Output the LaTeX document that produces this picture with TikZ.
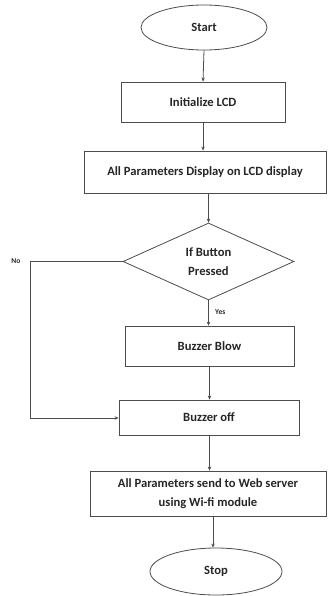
\documentclass[tikz,border=0pt]{standalone}
\usepackage{fontspec}
\setmainfont{Carlito}
\usetikzlibrary{shapes.geometric,arrows.meta}
\begin{document}
\begin{tikzpicture}[x=1pt,y=-1pt,
  every node/.style={font=\bfseries\fontsize{12.6}{19}\selectfont, text=black!85},
  line/.style={draw=black!70, line width=0.8pt},
  arr/.style={line, -{Stealth[length=4pt,width=3.5pt]}},
  term/.style={ellipse, line, inner sep=0pt},
  proc/.style={rectangle, line, inner sep=0pt, align=center},
  dec/.style={diamond, line, inner sep=0pt, align=center},
  lbl/.style={font=\bfseries\fontsize{7.5}{9}\selectfont}]
\useasboundingbox (0,0) rectangle (327,596);
\node[term, minimum width=126pt, minimum height=45pt] (start) at (204,27.5) {Start};
\node[proc, minimum width=164pt, minimum height=40pt] (init) at (203,102) {Initialize LCD};
\node[proc, minimum width=242pt, minimum height=42pt] (disp) at (205,172) {All Parameters Display on LCD display};
\node[dec, minimum width=171pt, minimum height=77pt] (btn) at (208.5,261.5) {If Button\\Pressed};
\node[proc, minimum width=169pt, minimum height=40pt] (blow) at (209.5,346) {Buzzer Blow};
\node[proc, minimum width=180pt, minimum height=35pt] (off) at (209,417.5) {Buzzer off};
\node[proc, minimum width=236pt, minimum height=45pt] (send) at (208,493.5) {All Parameters send to Web server\\using Wi-fi module};
\node[term, minimum width=132pt, minimum height=47pt] (stop) at (216,571.5) {Stop};
\coordinate (c1) at (30,261.5);
\coordinate (c2) at (30,418);
\coordinate (s1) at ([xshift=5pt]send.south);
\draw[arr] (start.south) -- (init.north);
\draw[arr] (init.south) -- (disp.north -| init.south);
\draw[arr] (disp.south -| btn.north) -- (btn.north);
\draw[arr] (btn.south) -- node[lbl, right, pos=0.45, xshift=3pt] {Yes} (blow.north -| btn.south);
\draw[arr] (blow.south) -- (off.north -| blow.south);
\draw[arr] (off.south -| blow.south) -- (send.north -| blow.south);
\draw[arr] (s1) -- (s1 |- stop.north);
\draw[arr] (btn.west) -- (c1) -- (c2) -- (off.west |- c2);
\node[lbl, anchor=east] (no) at (24,261.5) {No};
\end{tikzpicture}
\end{document}
